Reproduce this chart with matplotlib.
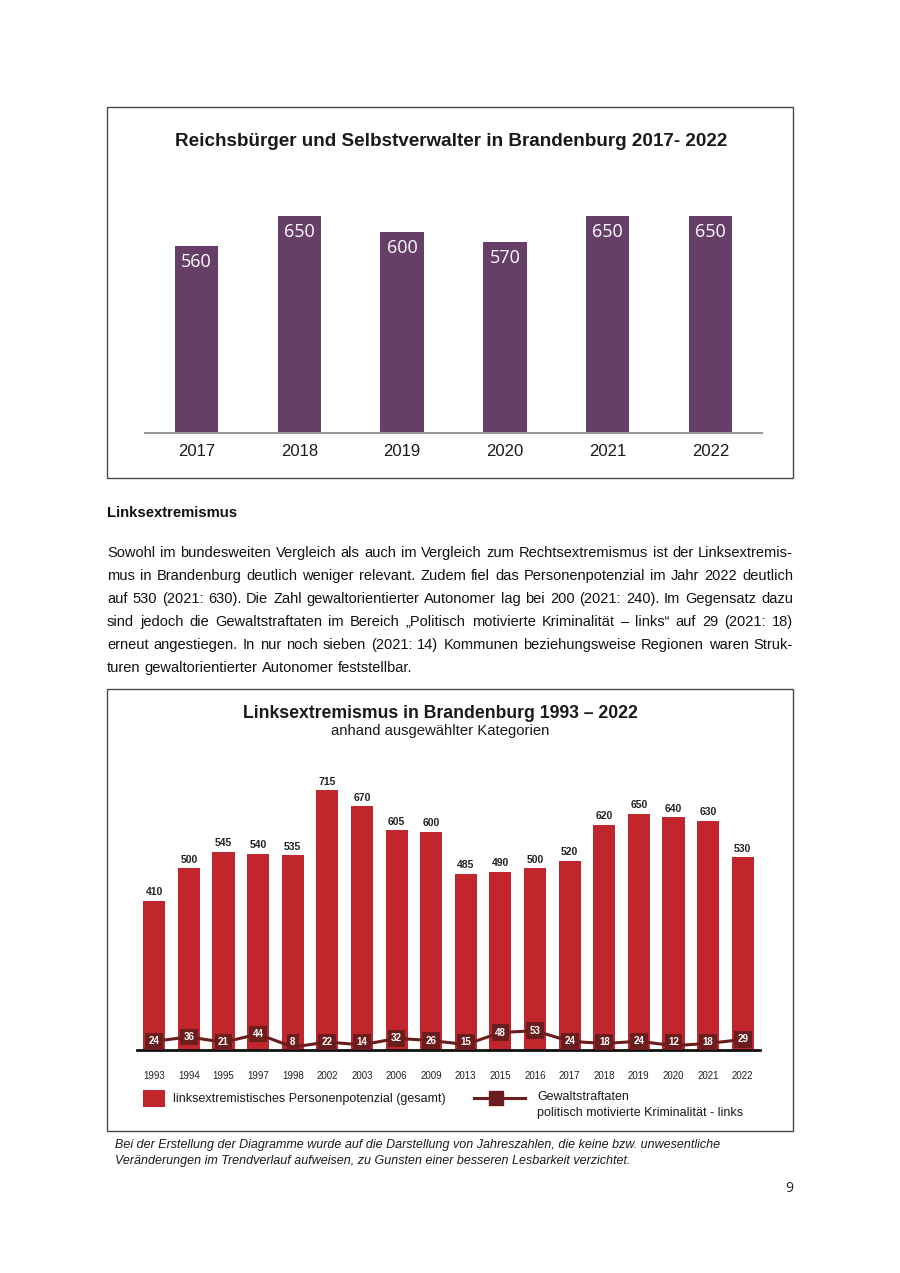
import matplotlib.pyplot as plt
from matplotlib import font_manager
from matplotlib.patches import Rectangle
from matplotlib.lines import Line2D

# Chart 1: Reichsbürger und Selbstverwalter
rb_years = ['2017', '2018', '2019', '2020', '2021', '2022']
rb_values = [560, 650, 600, 570, 650, 650]

# Chart 2: Linksextremismus
lx_years = ['1993', '1994', '1995', '1997', '1998', '2002', '2003', '2006', '2009',
            '2013', '2015', '2016', '2017', '2018', '2019', '2020', '2021', '2022']
lx_potential = [410, 500, 545, 540, 535, 715, 670, 605, 600,
                485, 490, 500, 520, 620, 650, 640, 630, 530]
lx_violence = [24, 36, 21, 44, 8, 22, 14, 32, 26,
               15, 48, 53, 24, 18, 24, 12, 18, 29]

para_lines = [
    "Sowohl im bundesweiten Vergleich als auch im Vergleich zum Rechtsextremismus ist der Linksextremis-",
    "mus in Brandenburg deutlich weniger relevant. Zudem fiel das Personenpotenzial im Jahr 2022 deutlich",
    "auf 530 (2021: 630). Die Zahl gewaltorientierter Autonomer lag bei 200 (2021: 240). Im Gegensatz dazu",
    "sind jedoch die Gewaltstraftaten im Bereich \u201ePolitisch motivierte Kriminalit\u00e4t \u2013 links\u201c auf 29 (2021: 18)",
    "erneut angestiegen. In nur noch sieben (2021: 14) Kommunen beziehungsweise Regionen waren Struk-",
    "turen gewaltorientierter Autonomer feststellbar.",
]

W, H = 900, 1273

# use a narrow face if the system has one, otherwise plain Arial metrics
avail = {f.name for f in font_manager.fontManager.ttflist}
narrow = next((n for n in ['Liberation Sans Narrow', 'Arial Narrow'] if n in avail), None)
ARIAL = ['Liberation Sans', 'DejaVu Sans']
NARROW = [narrow] + ARIAL if narrow else ARIAL

PURPLE = '#663e67'
RED = '#c0262c'
DARK = '#6b1c1d'


def fx(x):
    return x / W


def fy(y):
    return 1 - y / H


fig = plt.figure(figsize=(9, 12.73), dpi=100)
fig.patch.set_facecolor('white')
renderer = fig.canvas.get_renderer()


def text_width(s, size, **kw):
    t = fig.text(0, 0, s, fontsize=size, **kw)
    w = t.get_window_extent(renderer).width
    t.remove()
    return w


def fit(s, target, size=12, **kw):
    # font size so that s is target pixels wide
    return size * target / text_width(s, size, **kw)


def frame(x0, y0, x1, y1):
    fig.add_artist(Rectangle((fx(x0), fy(y1)), (x1 - x0) / W, (y1 - y0) / H,
                             transform=fig.transFigure, fill=False,
                             ec='#4a4a4a', lw=1.0))


# ---------- chart 1 ----------
frame(107, 107, 793, 478)
title1 = 'Reichsbürger und Selbstverwalter in Brandenburg 2017- 2022'
fig.text(fx(451), fy(142), title1, ha='center', va='center',
         fontsize=fit(title1, 552, fontweight='bold', family=NARROW),
         fontweight='bold', family=NARROW, color='#1a1a1a')

ax1 = fig.add_axes([fx(145), fy(433), 617 / W, 234 / H])
ax1.bar(range(len(rb_years)), rb_values, width=0.42, color=PURPLE)
ax1.set_xlim(-0.5, len(rb_years) - 0.5)
ax1.set_ylim(0, 700)
for s in ['top', 'left', 'right']:
    ax1.spines[s].set_visible(False)
ax1.spines['bottom'].set_color('#9a9a9a')
ax1.spines['bottom'].set_linewidth(1.5)
ax1.set_yticks([])
ax1.set_xticks(range(len(rb_years)))
ax1.set_xticklabels(rb_years, fontsize=12, family=ARIAL, color='#1a1a1a')
ax1.tick_params(axis='x', length=0, pad=8)
for i, v in enumerate(rb_values):
    ax1.annotate(str(v), (i, v), xytext=(0, -11.5), textcoords='offset points',
                 ha='center', va='center', color='white', fontsize=13,
                 family=['Open Sans', 'DejaVu Sans'])

# ---------- text block ----------
head = 'Linksextremismus'
fig.text(fx(107), fy(517), head, ha='left', va='baseline',
         fontsize=fit(head, 130, fontweight='bold', family=NARROW),
         fontweight='bold', family=NARROW, color='#111111')

x_left, x_right = 107, 793
psize = min(fit(ln, x_right - x_left, family=NARROW) for ln in para_lines[:-1]) * 0.985
space_w = text_width('a a', psize, family=NARROW) - text_width('aa', psize, family=NARROW)
for k, line in enumerate(para_lines):
    base = 557 + 23 * k
    words = line.split(' ')
    arts = [fig.text(0, fy(base), w, ha='left', va='baseline', fontsize=psize,
                     family=NARROW, color='#111111') for w in words]
    widths = [a.get_window_extent(renderer).width for a in arts]
    if k < len(para_lines) - 1:
        gap = (x_right - x_left - sum(widths)) / (len(words) - 1)
    else:
        gap = space_w
    x = x_left
    for a, w in zip(arts, widths):
        a.set_x(fx(x))
        x += w + gap

# ---------- chart 2 ----------
frame(107, 689, 793, 1131)
title2 = 'Linksextremismus in Brandenburg 1993 \u2013 2022'
sub2 = 'anhand ausgewählter Kategorien'
fig.text(fx(440), fy(713), title2, ha='center', va='center',
         fontsize=fit(title2, 391, fontweight='bold', family=ARIAL),
         fontweight='bold', family=ARIAL, color='#1a1a1a')
fig.text(fx(440), fy(731), sub2, ha='center', va='center',
         fontsize=fit(sub2, 220, family=ARIAL), family=ARIAL, color='#1a1a1a')

ax2 = fig.add_axes([fx(137), fy(1050), 623 / W, 283.6 / H])
xs = range(len(lx_years))
ax2.bar(xs, lx_potential, width=0.64, color=RED)
ax2.plot(xs, lx_violence, color=DARK, lw=2.2, zorder=3)
ax2.set_xlim(-0.5, len(lx_years) - 0.5)
ax2.set_ylim(0, 780)
for s in ['top', 'left', 'right']:
    ax2.spines[s].set_visible(False)
ax2.spines['bottom'].set_color('#111111')
ax2.spines['bottom'].set_linewidth(2)
ax2.set_yticks([])
ax2.set_xticks(list(xs))
ax2.set_xticklabels(lx_years, fontsize=7, family=NARROW, color='#222222')
ax2.tick_params(axis='x', length=0, pad=15)
for i, v in enumerate(lx_potential):
    ax2.annotate(str(v), (i, v), xytext=(0, 2.5), textcoords='offset points',
                 ha='center', va='bottom', fontsize=7.5, fontweight='bold',
                 family=NARROW, color='#222222')
for i, v in enumerate(lx_violence):
    ax2.text(i, max(v, 22), str(v), ha='center', va='center', fontsize=7,
             fontweight='bold', family=NARROW, color='white', zorder=4,
             bbox=dict(boxstyle='square,pad=0.35', fc=DARK, ec='none'))

# legend
leg1 = 'linksextremistisches Personenpotenzial (gesamt)'
lsize = fit(leg1, 272, family=ARIAL)
fig.add_artist(Rectangle((fx(143), fy(1107)), 22 / W, 17 / H, transform=fig.transFigure,
                         fc=RED, ec='none'))
fig.text(fx(173), fy(1099), leg1, ha='left', va='center', fontsize=lsize,
         family=ARIAL, color='#1a1a1a')
fig.add_artist(Line2D([fx(474), fx(525)], [fy(1098), fy(1098)], transform=fig.transFigure,
                      color=DARK, lw=2.2))
fig.add_artist(Line2D([fx(496)], [fy(1098)], transform=fig.transFigure, marker='s',
                      markersize=10, color=DARK, lw=0))
fig.text(fx(537), fy(1097), 'Gewaltstraftaten', ha='left', va='center', fontsize=lsize,
         family=ARIAL, color='#1a1a1a')
fig.text(fx(537), fy(1113), 'politisch motivierte Kriminalität - links', ha='left',
         va='center', fontsize=lsize, family=ARIAL, color='#1a1a1a')

# footnote and page number
foot1 = ('Bei der Erstellung der Diagramme wurde auf die Darstellung von '
         'Jahreszahlen, die keine bzw. unwesentliche')
foot2 = 'Veränderungen im Trendverlauf aufweisen, zu Gunsten einer besseren Lesbarkeit verzichtet.'
fsize = fit(foot1, 604, style='italic', family=ARIAL)
fig.text(fx(115), fy(1145), foot1, ha='left', va='center', fontsize=fsize,
         style='italic', family=ARIAL, color='#1a1a1a')
fig.text(fx(115), fy(1161), foot2, ha='left', va='center', fontsize=fsize,
         style='italic', family=ARIAL, color='#1a1a1a')
fig.text(fx(789), fy(1188), '9', ha='center', va='center', fontsize=10,
         family=['Open Sans', 'DejaVu Sans'], color='#222222')

fig.savefig('out.png', dpi=100)
